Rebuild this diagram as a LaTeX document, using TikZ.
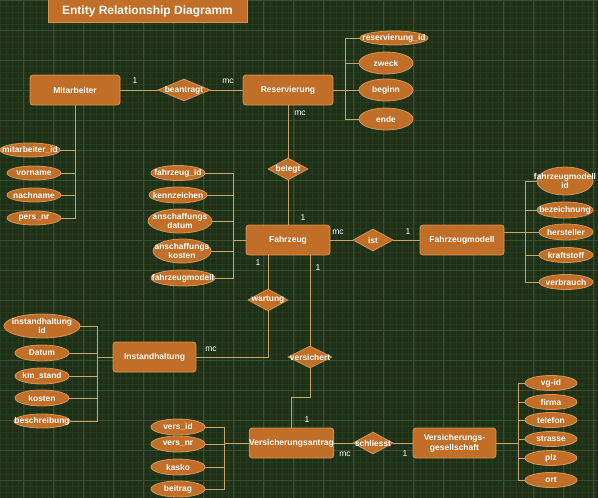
\documentclass[tikz,border=0pt]{standalone}
\usepackage{fontspec}
\setmainfont{Liberation Sans}
\usetikzlibrary{shapes.geometric}
\definecolor{bg}{RGB}{30,48,23}
\definecolor{gridminor}{RGB}{39,59,30}
\definecolor{gridmajor}{RGB}{55,80,43}
\definecolor{boxfill}{RGB}{193,110,40}
\definecolor{boxline}{RGB}{214,150,82}
\definecolor{wire}{RGB}{200,165,110}
\tikzset{
  entity/.style={draw=boxline, fill=boxfill, rounded corners=3pt, minimum width=#1, minimum height=30, inner sep=0pt, text=white, font=\bfseries\fontsize{8.5}{10}\selectfont, align=center, line width=0.8pt},
  entity/.default=84,
  attr/.style n args={2}{ellipse, draw=boxline, fill=boxfill, minimum width=#1, minimum height=#2, inner sep=0pt, line width=0.8pt},
  rel/.style n args={2}{diamond, draw=boxline, fill=boxfill, minimum width=#1, minimum height=#2, inner sep=0pt, line width=0.8pt},
  lbl/.style={text=white, font=\bfseries\fontsize{8.4}{9}\selectfont, align=center, inner sep=0pt},
  card/.style={text=white, font=\fontsize{8.5}{10}\selectfont, inner sep=0pt},
  wireline/.style={draw=wire, line width=0.8pt},
}
\newcommand{\attrnode}[6]{\node[attr={#4}{#5}, label={[lbl]center:#6}] (#1) at (#2,#3) {};}
\begin{document}
\begin{tikzpicture}[x=1pt,y=-1pt]
\useasboundingbox (0,0) rectangle (598,498);
\fill[bg] (0,0) rectangle (598,498);
\draw[gridminor, line width=0.4pt] (0,0) grid[step=6pt] (598,498);
\foreach \gx in {23,53,...,593} \draw[gridmajor, line width=0.5pt] (\gx,0) -- (\gx,498);
\foreach \gy in {0,30,...,490} \draw[gridmajor, line width=0.5pt] (0,\gy) -- (598,\gy);

% title
\node[draw=boxline, fill=boxfill, minimum width=199, minimum height=23, inner sep=0pt, text=white, font=\bfseries\fontsize{12}{14}\selectfont, line width=0.8pt] (title) at (147.5,11) {Entity Relationship Diagramm};

% entities
\node[entity=90] (mit) at (75,90) {Mitarbeiter};
\node[entity=90] (res) at (288,90) {Reservierung};
\node[entity=84] (fz) at (288,240) {Fahrzeug};
\node[entity=84] (fm) at (462,240) {Fahrzeugmodell};
\node[entity=83] (ih) at (154.5,357) {Instandhaltung};
\node[entity=83] (va) at (291.5,443) {Versicherungsantrag};
\node[entity=83] (vg) at (454.5,443) {Versicherungs-\\gesellschaft};

% relationships
\node[rel={52}{22}, label={[lbl]center:beantragt}] (bea) at (184,90) {};
\node[rel={40}{22}, label={[lbl]center:belegt}] (bel) at (288,169) {};
\node[rel={40}{22}, label={[lbl]center:ist}] (ist) at (373,240) {};
\node[rel={40}{22}, label={[lbl]center:wartung}] (war) at (268,300) {};
\node[rel={44}{22}, label={[lbl]center:versichert}] (ver) at (310,357) {};
\node[rel={40}{22}, label={[lbl]center:schliesst}] (sch) at (373,443) {};

% attributes Mitarbeiter
\attrnode{mid}{30}{150}{60}{14}{mitarbeiter\_id}
\attrnode{mvn}{34}{173}{54}{14}{vorname}
\attrnode{mnn}{34}{195}{54}{14}{nachname}
\attrnode{mpn}{34}{218}{54}{14}{pers\_nr}

% attributes Reservierung
\attrnode{rid}{394}{38}{68}{14}{reservierung\_id}
\attrnode{rzw}{386}{63}{54}{22}{zweck}
\attrnode{rbe}{386}{90}{54}{22}{beginn}
\attrnode{ren}{386}{119}{54}{22}{ende}

% attributes Fahrzeug
\attrnode{fid}{178}{173}{54}{15}{fahrzeug\_id}
\attrnode{fkz}{178}{195}{58}{16}{kennzeichen}
\attrnode{fad}{180}{221}{64}{24}{anschaffungs\\datum}
\attrnode{fak}{182}{251}{58}{24}{anschaffungs\\kosten}
\attrnode{ffm}{183}{278}{64}{16}{fahrzeugmodell}

% attributes Fahrzeugmodell
\attrnode{mmid}{565}{181}{56}{28}{fahrzeugmodell\\id}
\attrnode{mbez}{565}{210}{56}{16}{bezeichnung}
\attrnode{mher}{566}{232}{54}{16}{hersteller}
\attrnode{mkra}{566}{255}{54}{15}{kraftstoff}
\attrnode{mver}{566}{282}{54}{15}{verbrauch}

% attributes Instandhaltung
\attrnode{iid}{42}{326}{76}{24}{instandhaltung\\id}
\attrnode{idt}{42}{353}{54}{16}{Datum}
\attrnode{ikm}{42}{376}{54}{16}{km\_stand}
\attrnode{iko}{42}{398}{54}{16}{kosten}
\attrnode{ibe}{42}{421}{56}{14}{beschreibung}

% attributes Versicherungsantrag
\attrnode{vid}{178}{427}{54}{16}{vers\_id}
\attrnode{vnr}{178}{444}{54}{16}{vers\_nr}
\attrnode{vka}{178}{467}{54}{16}{kasko}
\attrnode{vbe}{178}{489}{54}{16}{beitrag}

% attributes Versicherungsgesellschaft
\attrnode{gid}{551}{383}{52}{15}{vg-id}
\attrnode{gfi}{551}{402}{52}{15}{firma}
\attrnode{gte}{551}{420}{52}{15}{telefon}
\attrnode{gst}{551}{439}{52}{15}{strasse}
\attrnode{gpl}{551}{458}{52}{15}{plz}
\attrnode{gor}{551}{480}{52}{15}{ort}

% bus coordinates
\coordinate (rbus) at (345,90);
\coordinate (fbus) at (233,240);
\coordinate (mbus) at (525,232);
\coordinate (ibus) at (97,357);
\coordinate (vbus) at (224,443);
\coordinate (gbus) at (518,443);
\coordinate (wcorner) at (268,357);
\coordinate (vcorner) at (310,397);

% relationship lines
\draw[wireline] (mit.east) -- (bea.west);
\draw[wireline] (bea.east) -- (res.west);
\draw[wireline] (res.south) -- (bel.north);
\draw[wireline] (bel.south) -- (fz.north);
\draw[wireline] (fz.east) -- (ist.west);
\draw[wireline] (ist.east) -- (fm.west);
\draw[wireline] (fz.south -| war) -- (war.north);
\draw[wireline] (war.south) -- (wcorner) -- (ih.east);
\draw[wireline] (fz.south -| ver) -- (ver.north);
\draw[wireline] (ver.south) -- (vcorner) -| (va.north);
\draw[wireline] (va.east) -- (sch.west);
\draw[wireline] (sch.east) -- (vg.west);

% Mitarbeiter attributes
\draw[wireline] (mit.south) -- (mit.south |- mpn.east) -- (mpn.east);
\foreach \a in {mid,mvn,mnn} \draw[wireline] (\a.east) -- (\a.east -| mit.south);

% Reservierung attributes
\draw[wireline] (res.east) -- (rbus);
\draw[wireline] (rid.west) -- (rid.west -| rbus) -- (ren.west -| rbus) -- (ren.west);
\foreach \a in {rzw,rbe} \draw[wireline] (\a.west) -- (\a.west -| rbus);

% Fahrzeug attributes
\draw[wireline] (fz.west) -- (fbus);
\draw[wireline] (fid.east) -- (fid.east -| fbus) -- (ffm.east -| fbus) -- (ffm.east);
\foreach \a in {fkz,fad,fak} \draw[wireline] (\a.east) -- (\a.east -| fbus);

% Fahrzeugmodell attributes
\draw[wireline] (fm.east |- mbus) -- (mbus);
\draw[wireline] (mmid.west) -- (mmid.west -| mbus) -- (mver.west -| mbus) -- (mver.west);
\foreach \a in {mbez,mher,mkra} \draw[wireline] (\a.west) -- (\a.west -| mbus);

% Instandhaltung attributes
\draw[wireline] (ih.west) -- (ibus);
\draw[wireline] (iid.east) -- (iid.east -| ibus) -- (ibe.east -| ibus) -- (ibe.east);
\foreach \a in {idt,ikm,iko} \draw[wireline] (\a.east) -- (\a.east -| ibus);

% Versicherungsantrag attributes
\draw[wireline] (va.west) -- (vbus);
\draw[wireline] (vid.east) -- (vid.east -| vbus) -- (vbe.east -| vbus) -- (vbe.east);
\foreach \a in {vnr,vka} \draw[wireline] (\a.east) -- (\a.east -| vbus);

% Versicherungsgesellschaft attributes
\draw[wireline] (vg.east) -- (gbus);
\draw[wireline] (gid.west) -- (gid.west -| gbus) -- (gor.west -| gbus) -- (gor.west);
\foreach \a in {gfi,gte,gst,gpl} \draw[wireline] (\a.west) -- (\a.west -| gbus);

% cardinalities
\node[card] (c1) at (135,81) {1};
\node[card] (c2) at (228,81) {mc};
\node[card] (c3) at (300,113) {mc};
\node[card] (c4) at (303,218) {1};
\node[card] (c5) at (338,232) {mc};
\node[card] (c6) at (408,232) {1};
\node[card] (c7) at (258,263) {1};
\node[card] (c8) at (318,268) {1};
\node[card] (c9) at (211,349) {mc};
\node[card] (c10) at (307,420) {1};
\node[card] (c11) at (345,454) {mc};
\node[card] (c12) at (405,454) {1};
\end{tikzpicture}
\end{document}
